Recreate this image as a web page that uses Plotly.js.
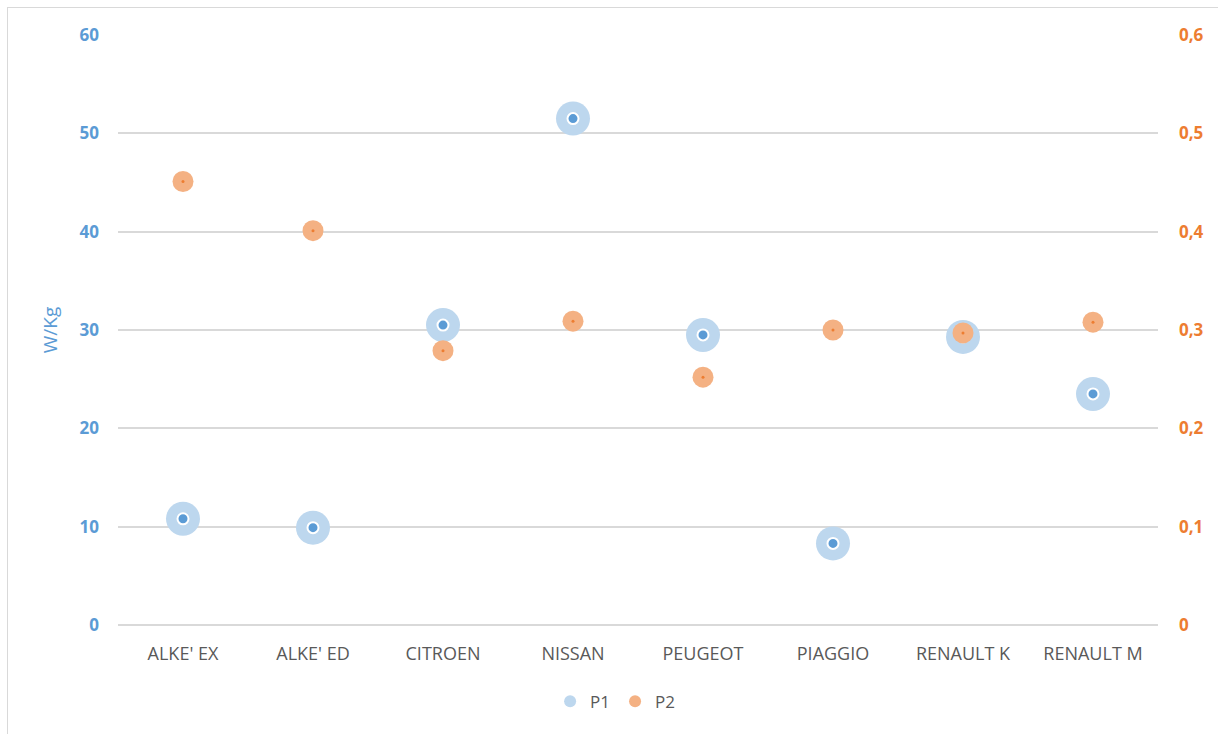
<!DOCTYPE html>
<html>
<head>
<meta charset="utf-8">
<script src="https://cdn.plot.ly/plotly-3.0.1.min.js"></script>
<style>
html,body{margin:0;padding:0;background:#fff;}
#frame{position:absolute;left:7px;top:7px;width:1211px;height:727px;border-left:1px solid #d9d9d9;border-top:1px solid #d9d9d9;box-sizing:border-box;}
#chart{position:absolute;left:0;top:0;width:1219px;height:734px;}
</style>
</head>
<body>
<div id="frame"></div>
<div id="chart"></div>
<script>
const categories = ["ALKE' EX", "ALKE' ED", "CITROEN", "NISSAN", "PEUGEOT", "PIAGGIO", "RENAULT K", "RENAULT M"];
const p1 = [10.8, 9.9, 30.5, 51.5, 29.5, 8.3, 29.3, 23.5];
const p2 = [0.451, 0.401, 0.279, 0.309, 0.252, 0.300, 0.297, 0.308];
const leftTicks = [0, 10, 20, 30, 40, 50, 60];
const rightTicks = [0, 0.1, 0.2, 0.3, 0.4, 0.5, 0.6];

const blueLight = '#BDD7EE', blue = '#5B9BD5', orangeLight = '#F4B183', orange = '#ED7D31';
const xIdx = categories.map((c, i) => i);

const traces = [
  {x: xIdx, y: p1, type: 'scatter', mode: 'markers', name: 'P1', yaxis: 'y',
   marker: {size: 34, color: blueLight, line: {width: 0}}, hoverinfo: 'skip'},
  {x: xIdx, y: p1, type: 'scatter', mode: 'markers', name: 'P1c', yaxis: 'y', showlegend: false,
   marker: {size: 11, color: blue, line: {width: 2, color: '#ffffff'}}},
  {x: xIdx, y: p2, type: 'scatter', mode: 'markers', name: 'P2', yaxis: 'y2',
   marker: {size: 21, color: orangeLight, line: {width: 0}}, hoverinfo: 'skip'},
  {x: xIdx, y: p2, type: 'scatter', mode: 'markers', name: 'P2c', yaxis: 'y2', showlegend: false,
   marker: {size: 3, color: orange, line: {width: 0}}}
];

const font = "'Open Sans', 'Liberation Sans', sans-serif";
const layout = {
  width: 1219, height: 734,
  margin: {l: 118, r: 61, t: 35, b: 109},
  paper_bgcolor: 'rgba(0,0,0,0)', plot_bgcolor: 'rgba(0,0,0,0)',
  separators: ', ',
  font: {family: font, color: '#595959', size: 16},
  showlegend: true,
  legend: {orientation: 'h', x: 0.478, xanchor: 'center', y: -0.13, yanchor: 'middle',
           font: {size: 17, color: '#595959'}, itemsizing: 'constant', itemwidth: 30, tracegroupgap: 0},
  xaxis: {range: [-0.5, 7.5], tickmode: 'array', tickvals: xIdx, ticktext: categories,
          showgrid: false, zeroline: false, showline: false, ticks: '', fixedrange: true,
          tickfont: {size: 18, color: '#595959'}, ticklabelstandoff: 16},
  yaxis: {range: [0, 60], tickmode: 'array', tickvals: leftTicks, showgrid: true,
          gridcolor: '#d9d9d9', gridwidth: 2, zeroline: true, zerolinecolor: '#d9d9d9', zerolinewidth: 2,
          showline: false, ticks: '',
          tickfont: {size: 17, color: blue, weight: 'bold'}, ticklabelstandoff: 18,
          title: {text: 'W/Kg', font: {size: 19, color: blue}, standoff: 16}},
  yaxis2: {range: [0, 0.6], overlaying: 'y', side: 'right', tickmode: 'array', tickvals: rightTicks,
           showgrid: false, zeroline: false, showline: false, ticks: '',
           tickfont: {size: 17, color: orange, weight: 'bold'}, ticklabelstandoff: 20}
};
layout.yaxis2.ticktext = rightTicks.map(v => v === 0 ? '0' : v.toFixed(1).replace('.', ','));
Plotly.newPlot('chart', traces, layout, {displayModeBar: false, staticPlot: true});
</script>
</body>
</html>
